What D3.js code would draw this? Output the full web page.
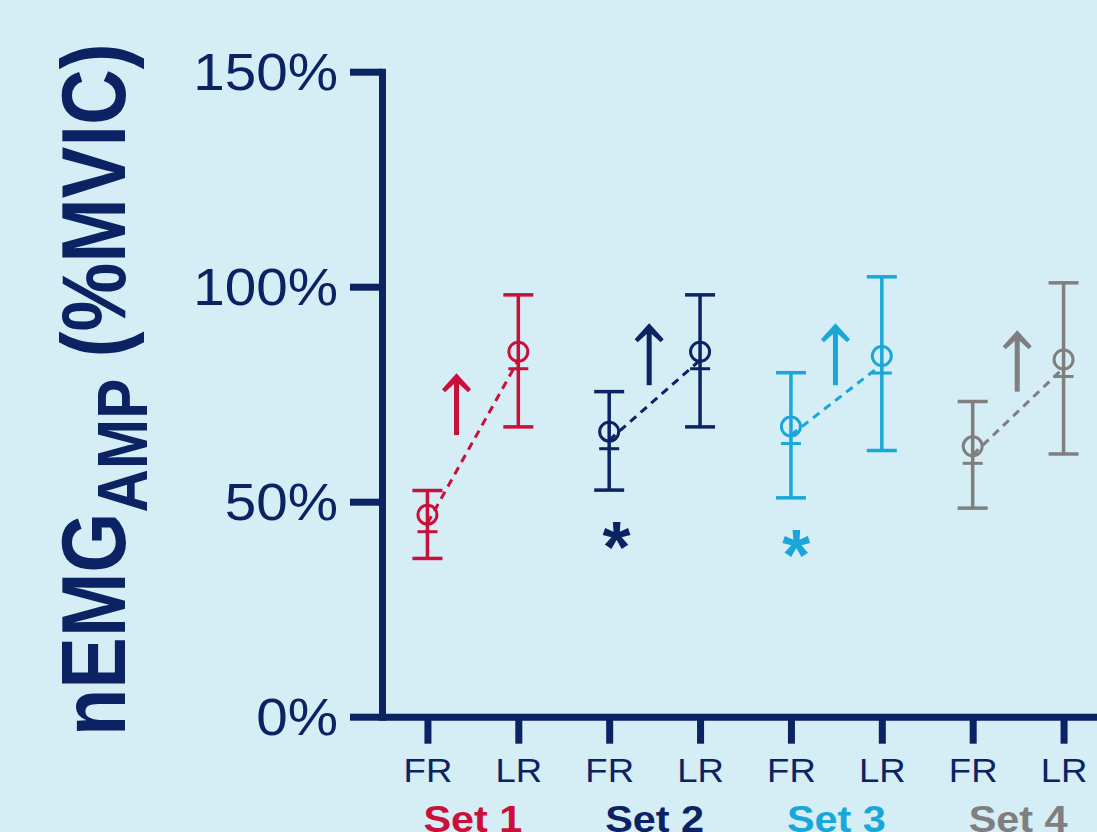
<!DOCTYPE html>
<html>
<head>
<meta charset="utf-8">
<script src="https://cdn.jsdelivr.net/npm/d3@7"></script>
<style>
  html, body { margin: 0; padding: 0; background: #d5edf5; }
  svg { display: block; }
</style>
</head>
<body>
<script>
// ---- data ----
const categories = ["FR", "LR", "FR", "LR", "FR", "LR", "FR", "LR"];
const sets = ["Set 1", "Set 2", "Set 3", "Set 4"];
const setColors = ["#c8103a", "#0b2263", "#19a7da", "#7f7f7f"];
const means = [45.0, 82.9, 64.3, 82.9, 65.5, 81.9, 60.9, 81.1];
const upper = [52.6, 98.1, 75.6, 98.1, 80.0, 102.3, 73.3, 100.9];
const lower = [36.8, 67.4, 52.7, 67.4, 50.9, 61.9, 48.5, 61.1];
const arrowPos = [0.32, 2.44, 4.49, 6.49];
const arrowFrom = [65.5, 77.1, 77.1, 75.6];
const arrowTo = [79.9, 91.5, 91.5, 89.9];
const starSet = [1, 2];
const starPos = [2.08, 4.06];
const starVal = [41.6, 39.9];
const yTicks = [0, 50, 100, 150];

// ---- setup ----
const W = 1097, H = 832;
const navy = "#0b2263";
const font = "'Liberation Sans', Arial, Helvetica, sans-serif";

const svg = d3.select("body").append("svg")
  .attr("width", W).attr("height", H)
  .style("font-family", font);

svg.append("rect").attr("width", W).attr("height", H).attr("fill", "#d5edf5");

const x = d3.scaleLinear().domain([-0.5, 7.5]).range([382, 1109]);
const y = d3.scaleLinear().domain([0, 150]).range([716.7, 71.7]);

// ---- y axis ----
const yAxis = svg.append("g")
  .attr("transform", `translate(${x(-0.5)},0)`)
  .call(d3.axisLeft(y).tickValues(yTicks).tickSize(32).tickSizeOuter(0)
    .tickFormat(d => d + "%"));
yAxis.select(".domain").attr("stroke", navy).attr("stroke-width", 7)
  .attr("stroke-linecap", "square");
yAxis.selectAll(".tick line").attr("stroke", navy).attr("stroke-width", 7);
yAxis.selectAll(".tick text")
  .attr("fill", navy)
  .attr("font-size", 51)
  .attr("font-family", font)
  .attr("x", -44 / 1.11)
  .attr("dy", "0.35em")
  .attr("transform", "scale(1.11,1)");

// ---- x axis ----
const xAxis = svg.append("g")
  .attr("transform", `translate(0,${y(0)})`)
  .call(d3.axisBottom(x).tickValues(d3.range(categories.length)).tickSize(27)
    .tickSizeOuter(0).tickFormat(i => categories[i]));
xAxis.select(".domain").attr("stroke", navy).attr("stroke-width", 7);
xAxis.selectAll(".tick line").attr("stroke", navy).attr("stroke-width", 7);
xAxis.selectAll(".tick text")
  .attr("fill", navy)
  .attr("font-size", 32.6)
  .attr("font-family", font)
  .attr("y", 65)
  .attr("dy", 0)
  .attr("transform", "scale(1.12,1)");

// set labels (cut by the bottom edge, as in the original)
svg.append("g").selectAll("text").data(sets).join("text")
  .attr("transform", (d, i) => `translate(${x(2 * i + 0.5)},832) scale(1.12,1)`)
  .attr("text-anchor", "middle")
  .attr("font-size", 37)
  .attr("font-weight", "bold")
  .attr("fill", (d, i) => setColors[i])
  .text(d => d);

// ---- y title ----
const title = svg.append("text")
  .attr("transform", "translate(125,736) rotate(-90) scale(0.86,1)")
  .attr("fill", navy)
  .attr("font-weight", "bold")
  .style("white-space", "pre");
title.append("tspan").attr("font-size", 90).text("nEMG");
title.append("tspan").attr("font-size", 70).attr("dy", 22).text("AMP");
title.append("tspan").attr("font-size", 90).attr("dy", -22).text(" (%MVIC)");

// ---- data marks ----
const idx = d3.range(means.length);
const col = i => setColors[Math.floor(i / 2)];
const marks = svg.append("g");

// error bars
marks.selectAll("line.eb").data(idx).join("line").attr("class", "eb")
  .attr("x1", i => x(i)).attr("x2", i => x(i))
  .attr("y1", i => y(lower[i])).attr("y2", i => y(upper[i]))
  .attr("stroke", col).attr("stroke-width", 3.5);
marks.selectAll("line.capT").data(idx).join("line").attr("class", "capT")
  .attr("x1", i => x(i) - 15).attr("x2", i => x(i) + 15)
  .attr("y1", i => y(upper[i])).attr("y2", i => y(upper[i]))
  .attr("stroke", col).attr("stroke-width", 3.5);
marks.selectAll("line.capB").data(idx).join("line").attr("class", "capB")
  .attr("x1", i => x(i) - 15).attr("x2", i => x(i) + 15)
  .attr("y1", i => y(lower[i])).attr("y2", i => y(lower[i]))
  .attr("stroke", col).attr("stroke-width", 3.5);

// dashed connectors
marks.selectAll("line.dash").data(d3.range(sets.length)).join("line").attr("class", "dash")
  .attr("x1", s => x(2 * s)).attr("y1", s => y(means[2 * s]))
  .attr("x2", s => x(2 * s + 1)).attr("y2", s => y(means[2 * s + 1]))
  .attr("stroke", (s) => setColors[s]).attr("stroke-width", 3)
  .attr("stroke-dasharray", "8,6");

// markers: open circle above, short bar below
marks.selectAll("circle").data(idx).join("circle")
  .attr("cx", i => x(i)).attr("cy", i => y(means[i]) - 8.5)
  .attr("r", 9.5).attr("fill", "none")
  .attr("stroke", col).attr("stroke-width", 3);
marks.selectAll("line.med").data(idx).join("line").attr("class", "med")
  .attr("x1", i => x(i) - 10).attr("x2", i => x(i) + 10)
  .attr("y1", i => y(means[i]) + 8.5).attr("y2", i => y(means[i]) + 8.5)
  .attr("stroke", col).attr("stroke-width", 3);

// arrows
const arrows = svg.append("g").selectAll("g").data(d3.range(sets.length)).join("g")
  .attr("fill", s => setColors[s]).attr("stroke", s => setColors[s]);
arrows.append("line")
  .attr("x1", s => x(arrowPos[s])).attr("x2", s => x(arrowPos[s]))
  .attr("y1", s => y(arrowFrom[s])).attr("y2", s => y(arrowTo[s]) + 6)
  .attr("stroke-width", 5);
arrows.append("path")
  .attr("stroke", "none")
  .attr("transform", s => `translate(${x(arrowPos[s])},${y(arrowTo[s])})`)
  .attr("d", "M0,0 L14.5,16 L11.5,19 L0,8.5 L-11.5,19 L-14.5,16 Z");

// significance asterisks
svg.append("g").selectAll("text").data(d3.range(starSet.length)).join("text")
  .attr("x", k => x(starPos[k])).attr("y", k => y(starVal[k]))
  .attr("dy", "0.48em")
  .attr("text-anchor", "middle")
  .attr("font-size", 72)
  .attr("font-weight", "bold")
  .attr("fill", k => setColors[starSet[k]])
  .text("*");
</script>
</body>
</html>
